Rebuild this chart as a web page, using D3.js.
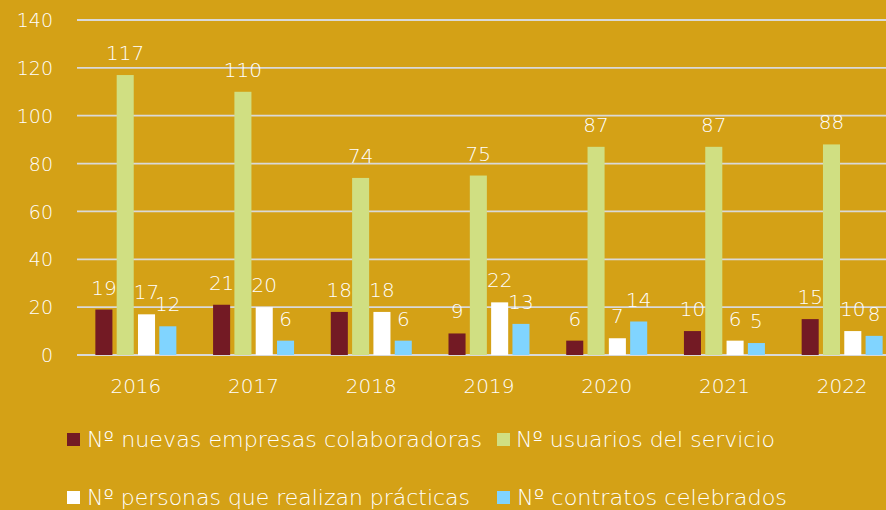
<!DOCTYPE html>
<html><head><meta charset="utf-8">
<script src="https://cdn.jsdelivr.net/npm/d3@7"></script>
<style>
html,body{margin:0;padding:0;background:#D4A116;}
svg{display:block;}
text{font-family:"DejaVu Sans","Lato",sans-serif;font-weight:200;fill:#fff;}
</style></head>
<body>
<svg id="chart" width="886" height="510"></svg>
<script>
const years = ["2016","2017","2018","2019","2020","2021","2022"];
const seriesNames = ["Nº nuevas empresas colaboradoras","Nº usuarios del servicio","Nº personas que realizan prácticas","Nº contratos celebrados"];
const empresas = [19,21,18,9,6,10,15];
const usuarios = [117,110,74,75,87,87,88];
const practicas = [17,20,18,22,7,6,10];
const contratos = [12,6,6,13,14,5,8];
const colors = ["#731A24","#D0DF82","#FFFFFF","#80D4FF"];
const yTicks = [0,20,40,60,80,100,120,140];

(function(){
const series = [empresas, usuarios, practicas, contratos];
const svg = d3.select("#chart");
const W = 886, H = 510;
svg.append("rect").attr("width",W).attr("height",H).attr("fill","#D4A116");

const mLeft = 77, mRight = 901, mTop = 20, mBottom = 355;
const y = d3.scaleLinear().domain([0,140]).range([mBottom, mTop]);
const x0 = d3.scaleBand().domain(years).range([mLeft, mRight]).paddingInner(0.312).paddingOuter(0.156);
const x1 = d3.scaleBand().domain(d3.range(4)).range([0, x0.bandwidth()]).paddingInner(0.2).paddingOuter(0);

svg.append("g").selectAll("line").data(yTicks).join("line")
  .attr("x1", mLeft).attr("x2", W).attr("y1", d=>y(d)).attr("y2", d=>y(d))
  .attr("stroke","#D9D9D9").attr("stroke-width",1.8);

const yAxis = d3.axisLeft(y).tickValues(yTicks).tickSize(0).tickPadding(0);
const gy = svg.append("g").attr("transform","translate(53,0)").call(yAxis);
gy.select(".domain").remove();
gy.selectAll("text").attr("font-size",19).attr("fill","#fff").attr("font-family",'"DejaVu Sans","Lato",sans-serif').attr("font-weight",200).attr("dy","0.35em");

const xAxis = d3.axisBottom(x0).tickSize(0).tickPadding(0);
const gx = svg.append("g").attr("transform","translate(0,378)").call(xAxis);
gx.select(".domain").remove();
gx.selectAll("text").attr("font-size",20).attr("fill","#fff").attr("font-family",'"DejaVu Sans","Lato",sans-serif').attr("font-weight",200).attr("dy","0.75em");

const groups = svg.append("g").selectAll("g").data(years).join("g")
  .attr("transform", d=>`translate(${x0(d)},0)`);
groups.selectAll("rect").data((d,i)=>series.map((s,k)=>({k, v:s[i]}))).join("rect")
  .attr("x", d=>x1(d.k)).attr("width", x1.bandwidth())
  .attr("y", d=>y(d.v)).attr("height", d=>y(0)-y(d.v))
  .attr("fill", d=>colors[d.k]);
groups.selectAll("text").data((d,i)=>series.map((s,k)=>({k, v:s[i]}))).join("text")
  .attr("x", d=>x1(d.k)+x1.bandwidth()/2).attr("y", d=>y(d.v)-15)
  .attr("text-anchor","middle").attr("font-size",20)
  .text(d=>d.v);

const legendPos = [[67,433,87,447,395],[497,433,516,447,259],[67,491,87,505,383],[497,491,517,505,270]];
seriesNames.forEach((name,k)=>{
  const p = legendPos[k];
  svg.append("rect").attr("x",p[0]).attr("y",p[1]).attr("width",13).attr("height",13).attr("fill",colors[k]);
  svg.append("text").attr("x",p[2]).attr("y",p[3]).attr("font-size",21)
    .attr("textLength",p[4]).attr("lengthAdjust","spacingAndGlyphs").text(name);
});
})();
</script>
</body></html>
